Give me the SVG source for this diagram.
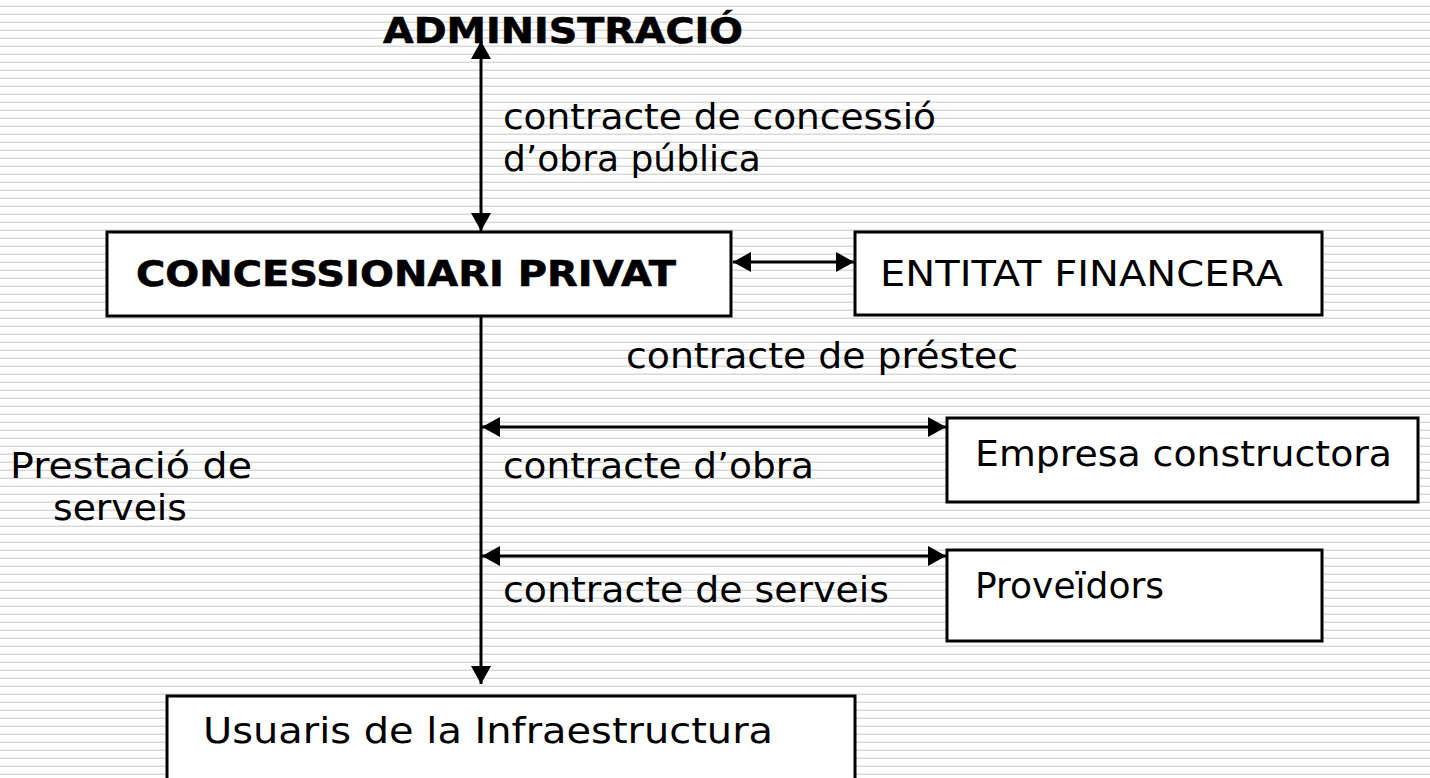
<svg xmlns="http://www.w3.org/2000/svg" width="1430" height="778" viewBox="0 0 1430 778">
<style>
.box{fill:#fff;stroke:#000;stroke-width:3}
.t{font-family:"DejaVu Sans","Liberation Sans",sans-serif;font-size:36px;fill:#000}
.b{font-weight:bold;stroke:#000;stroke-width:0.6}
.c{stroke:#000;stroke-width:3;fill:none}
</style>
<defs>
<pattern id="bg" width="8" height="8" patternUnits="userSpaceOnUse">
<rect width="8" height="8" fill="#fff"/>
<rect y="5" width="8" height="1" fill="#ececec"/>
<rect y="6" width="8" height="1" fill="#d9d9d9"/>
</pattern>
<marker id="ah" viewBox="0 0 18 20" refX="18" refY="10" markerWidth="18" markerHeight="20" markerUnits="userSpaceOnUse" orient="auto-start-reverse">
<path d="M0,0 L18,10 L0,20 Z" fill="#000"/>
</marker>
</defs>
<rect width="1430" height="778" fill="url(#bg)"/>
<g id="connectors">
<line class="c" x1="481" y1="41" x2="481" y2="231" marker-start="url(#ah)" marker-end="url(#ah)"/>
<line class="c" x1="733" y1="262" x2="854" y2="262" marker-start="url(#ah)" marker-end="url(#ah)"/>
<line class="c" x1="481" y1="316" x2="481" y2="684" marker-end="url(#ah)"/>
<line class="c" x1="482" y1="427" x2="946" y2="427" marker-start="url(#ah)" marker-end="url(#ah)"/>
<line class="c" x1="482" y1="556" x2="946" y2="556" marker-start="url(#ah)" marker-end="url(#ah)"/>
</g>
<g id="administracio">
<text class="t b" x="383" y="43" textLength="360" lengthAdjust="spacingAndGlyphs">ADMINISTRACIÓ</text>
</g>
<g id="label-concessio">
<text class="t" x="503" y="129" textLength="433" lengthAdjust="spacingAndGlyphs">contracte de concessió</text>
<text class="t" x="503" y="171">d’obra pública</text>
</g>
<g id="concessionari">
<rect class="box" x="107" y="232" width="624" height="84"/>
<text class="t b" x="136" y="286" textLength="540" lengthAdjust="spacingAndGlyphs">CONCESSIONARI PRIVAT</text>
</g>
<g id="entitat">
<rect class="box" x="855" y="232" width="467" height="83"/>
<text class="t" x="880" y="286" textLength="403" lengthAdjust="spacingAndGlyphs">ENTITAT FINANCERA</text>
</g>
<g id="label-prestec">
<text class="t" x="626" y="368" textLength="392" lengthAdjust="spacingAndGlyphs">contracte de préstec</text>
</g>
<g id="label-prestacio">
<text class="t" x="10" y="478" textLength="242" lengthAdjust="spacingAndGlyphs">Prestació de</text>
<text class="t" x="53" y="520" textLength="134" lengthAdjust="spacingAndGlyphs">serveis</text>
</g>
<g id="label-obra">
<text class="t" x="503" y="478" textLength="311" lengthAdjust="spacingAndGlyphs">contracte d’obra</text>
</g>
<g id="empresa">
<rect class="box" x="947" y="418" width="471" height="84"/>
<text class="t" x="975" y="466" textLength="417" lengthAdjust="spacingAndGlyphs">Empresa constructora</text>
</g>
<g id="label-serveis">
<text class="t" x="503" y="602" textLength="386" lengthAdjust="spacingAndGlyphs">contracte de serveis</text>
</g>
<g id="proveidors">
<rect class="box" x="947" y="550" width="375" height="91"/>
<text class="t" x="975" y="598">Proveïdors</text>
</g>
<g id="usuaris">
<rect class="box" x="167" y="696" width="688" height="90"/>
<text class="t" x="203" y="743" textLength="570" lengthAdjust="spacingAndGlyphs">Usuaris de la Infraestructura</text>
</g>
</svg>
